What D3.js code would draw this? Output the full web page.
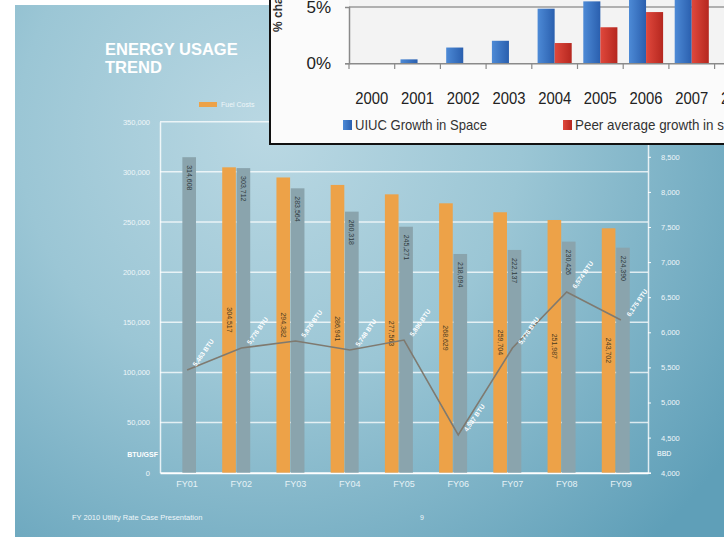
<!DOCTYPE html>
<html><head><meta charset="utf-8">
<script src="https://cdn.jsdelivr.net/npm/d3@7"></script>
<style>
html,body{margin:0;padding:0;background:#fff;}
svg{display:block;font-family:"Liberation Sans",Arial,sans-serif;}
</style></head>
<body>
<svg id="c" width="724" height="539"></svg>
<script>
// ---- main chart data ----
const categories = ["FY01","FY02","FY03","FY04","FY05","FY06","FY07","FY08","FY09"];
const fuelValues = [null, 304517, 294382, 286941, 277563, 268629, 259704, 251987, 243702];
const usageValues = [314608, 303712, 283564, 260318, 245271, 218094, 222137, 230426, 224390];
const intensityValues = [5463, 5776, 5876, 5748, 5890, 4537, 5776, 6574, 6175];
const leftTicks = [0, 50000, 100000, 150000, 200000, 250000, 300000, 350000];
const rightTicks = [4000, 4500, 5000, 5500, 6000, 6500, 7000, 7500, 8000, 8500];
// ---- inset chart data ----
const years = ["2000","2001","2002","2003","2004","2005","2006","2007","2008"];
const uiucGrowth = [0, 0.35, 1.4, 2.0, 4.85, 5.5, 7.2, 8.0, null];
const peerGrowth = [0, 0, 0, 0, 1.8, 3.2, 4.55, 7.6, null];
const insetTicks = [0, 5];

const svg = d3.select("#c");
const defs = svg.append("defs");

// slide background
const bg = defs.append("radialGradient").attr("id","bg").attr("gradientUnits","userSpaceOnUse")
  .attr("cx",270).attr("cy",130).attr("r",560);
bg.append("stop").attr("offset",0).attr("stop-color","#bad8e3");
bg.append("stop").attr("offset",0.45).attr("stop-color","#9bc6d5");
bg.append("stop").attr("offset",1).attr("stop-color","#5f9fb8");
svg.append("rect").attr("x",15).attr("y",5).attr("width",709).attr("height",532).attr("fill","url(#bg)");

// title
const title = svg.append("text").attr("fill","#ffffff").attr("font-weight","bold").attr("font-size",16.5);
title.append("tspan").attr("x",105).attr("y",55).text("ENERGY USAGE");
title.append("tspan").attr("x",105).attr("y",73).text("TREND");

// main chart scales
const x0 = d3.scaleBand().domain(categories).range([160, 648]);
const x1 = d3.scaleBand().domain(["fuel","usage"]).range([8, 36]).paddingInner(0.05);
const yL = d3.scaleLinear().domain([0, 350000]).range([472.7, 121.7]);
const yR = d3.scaleLinear().domain([4000, 9000]).range([472.7, 121.7]);

const g = svg.append("g");
// gridlines
g.selectAll("line.grid").data(leftTicks.slice(1)).join("line")
  .attr("x1",160).attr("x2",648).attr("y1",d=>yL(d)).attr("y2",d=>yL(d))
  .attr("stroke","#ffffff").attr("stroke-opacity",0.75).attr("stroke-width",1.5);

// left axis
const axL = g.append("g").attr("transform","translate(160,0)")
  .call(d3.axisLeft(yL).tickValues(leftTicks).tickFormat(d3.format(",")).tickSize(0).tickPadding(10));
axL.select(".domain").attr("stroke","#ffffff").attr("stroke-opacity",0.8).attr("stroke-width",1.5);
axL.selectAll("text").attr("fill","#eef6f9").attr("font-size",7.5);

// right axis
const axR = g.append("g").attr("transform","translate(648,0)")
  .call(d3.axisRight(yR).tickValues(rightTicks).tickFormat(d3.format(",")).tickSize(3).tickPadding(10));
axR.select(".domain").attr("stroke","#ffffff").attr("stroke-opacity",0.8).attr("stroke-width",1.5);
axR.selectAll(".tick line").attr("stroke","#ffffff");
axR.selectAll("text").attr("fill","#eef6f9").attr("font-size",7.5);

// bottom axis
const axB = g.append("g").attr("transform","translate(0,472.7)")
  .call(d3.axisBottom(x0).tickSize(0).tickPadding(8));
axB.select(".domain").attr("stroke","#ffffff").attr("stroke-width",2);
axB.selectAll("text").attr("fill","#e6f2f6").attr("font-size",9);

// unit labels
g.append("text").attr("x",158).attr("y",457).attr("text-anchor","end").attr("fill","#ffffff")
  .attr("font-size",7).attr("font-weight","bold").text("BTU/GSF");
g.append("text").attr("x",657).attr("y",456).attr("fill","#ffffff").attr("font-size",7).text("BBD");

// bars
const fuelBars = categories.map((c,i)=>({c, v:fuelValues[i]})).filter(d=>d.v!=null);
g.selectAll("rect.fuel").data(fuelBars).join("rect")
  .attr("x",d=>x0(d.c)+x1("fuel")).attr("width",x1.bandwidth())
  .attr("y",d=>yL(d.v)).attr("height",d=>yL(0)-yL(d.v)).attr("fill","#eda248");
g.selectAll("rect.usage").data(categories.map((c,i)=>({c, v:usageValues[i]}))).join("rect")
  .attr("x",d=>x0(d.c)+x1("usage")).attr("width",x1.bandwidth())
  .attr("y",d=>yL(d.v)).attr("height",d=>yL(0)-yL(d.v)).attr("fill","#8aa4ad");

// bar labels
g.selectAll("text.fl").data(fuelBars).join("text")
  .attr("transform",d=>`translate(${x0(d.c)+x1("fuel")+x1.bandwidth()/2},${(yL(d.v)+yL(0))/2}) rotate(90)`)
  .attr("text-anchor","middle").attr("dy","0.35em").attr("font-size",7).attr("fill","#4a3a20")
  .text(d=>d3.format(",")(d.v));
g.selectAll("text.ul").data(categories.map((c,i)=>({c, v:usageValues[i]}))).join("text")
  .attr("transform",d=>`translate(${x0(d.c)+x1("usage")+x1.bandwidth()/2},${yL(d.v)+8}) rotate(90)`)
  .attr("text-anchor","start").attr("dy","0.35em").attr("font-size",7).attr("fill","#2f3a3e")
  .text(d=>d3.format(",")(d.v));

// line
const pts = categories.map((c,i)=>({c, v:intensityValues[i]}));
const line = d3.line().x(d=>x0(d.c)+x0.bandwidth()/2).y(d=>yR(d.v));
g.append("path").datum(pts).attr("d",line).attr("fill","none")
  .attr("stroke","#7f7a70").attr("stroke-width",1.6);
g.selectAll("text.ll").data(pts).join("text")
  .attr("transform",d=>`translate(${x0(d.c)+x0.bandwidth()/2+9},${yR(d.v)-3}) rotate(-55)`)
  .attr("font-size",6.5).attr("font-weight","bold").attr("fill","#ffffff")
  .text(d=>d3.format(",")(d.v)+" BTU");

// legend (main)
svg.append("rect").attr("x",199).attr("y",102).attr("width",18).attr("height",5).attr("fill","#eda248");
svg.append("text").attr("x",221).attr("y",107).attr("font-size",7).attr("fill","#eef6f9").text("Fuel Costs");

// footer
svg.append("text").attr("x",72).attr("y",520).attr("font-size",7.5).attr("fill","#eef6f9").text("FY 2010 Utility Rate Case Presentation");
svg.append("text").attr("x",420).attr("y",520).attr("font-size",7).attr("fill","#eef6f9").text("9");

// ---- inset chart ----
const inset = svg.append("g");
defs.append("clipPath").attr("id","clipI").append("rect").attr("x",270).attr("y",0).attr("width",454).attr("height",144);
const gb = defs.append("linearGradient").attr("id","gBlue").attr("x1",0).attr("x2",1).attr("y1",0).attr("y2",0);
gb.append("stop").attr("offset",0).attr("stop-color","#4d8ad6");
gb.append("stop").attr("offset",1).attr("stop-color","#2a5fae");
const gr = defs.append("linearGradient").attr("id","gRed").attr("x1",0).attr("x2",1).attr("y1",0).attr("y2",0);
gr.append("stop").attr("offset",0).attr("stop-color","#e0483c");
gr.append("stop").attr("offset",1).attr("stop-color","#b5271f");

inset.append("rect").attr("x",270).attr("y",-2).attr("width",460).attr("height",146).attr("fill","#fbfbfb");
const ic = inset.append("g").attr("clip-path","url(#clipI)");
ic.append("rect").attr("x",349).attr("y",0).attr("width",375).attr("height",63.3).attr("fill","#f3f3f3");
const ix0 = d3.scaleBand().domain(years).range([349, 349 + 45.7*years.length]);
const ix1 = d3.scaleBand().domain(["uiuc","peer"]).range([0, ix0.bandwidth()]).paddingOuter(0.34);
const iy = d3.scaleLinear().domain([0,5]).range([63.3, 7]);

ic.selectAll("line.ig").data(insetTicks.slice(1)).join("line")
  .attr("x1",349).attr("x2",724).attr("y1",d=>iy(d)).attr("y2",d=>iy(d)).attr("stroke","#9a9a9a").attr("stroke-width",1.5);

const ub = years.map((y,i)=>({y, v:uiucGrowth[i]})).filter(d=>d.v!=null);
const pb = years.map((y,i)=>({y, v:peerGrowth[i]})).filter(d=>d.v!=null);
ic.selectAll("rect.ub").data(ub).join("rect")
  .attr("x",d=>ix0(d.y)+ix1("uiuc")).attr("width",ix1.bandwidth())
  .attr("y",d=>iy(d.v)).attr("height",d=>iy(0)-iy(d.v)).attr("fill","url(#gBlue)");
ic.selectAll("rect.pb").data(pb).join("rect")
  .attr("x",d=>ix0(d.y)+ix1("peer")).attr("width",ix1.bandwidth())
  .attr("y",d=>iy(d.v)).attr("height",d=>iy(0)-iy(d.v)).attr("fill","url(#gRed)");

const iax = ic.append("g").attr("transform","translate(0,63.3)")
  .call(d3.axisBottom(ix0).tickSize(0).tickPadding(29));
iax.select(".domain").attr("stroke","#8a8a8a").attr("stroke-width",1.5);
iax.selectAll("text").attr("fill","#222").attr("font-size",16.5).attr("textLength",33).attr("lengthAdjust","spacingAndGlyphs");
ic.selectAll("line.itk").data(years).join("line")
  .attr("x1",d=>ix0(d)).attr("x2",d=>ix0(d)).attr("y1",63.3).attr("y2",69).attr("stroke","#8a8a8a").attr("stroke-width",1.2);

const iay = ic.append("g").attr("transform","translate(349,0)")
  .call(d3.axisLeft(iy).tickValues(insetTicks).tickFormat(d=>d+"%").tickSize(4).tickPadding(14));
iay.select(".domain").attr("stroke","#8a8a8a").attr("stroke-width",1.5);
iay.selectAll(".tick line").attr("stroke","#8a8a8a");
iay.selectAll("text").attr("fill","#222").attr("font-size",17);

ic.append("text").attr("transform","translate(282,32) rotate(-90)").attr("font-size",12).attr("font-weight","bold")
  .attr("fill","#333").text("% change in space");

// inset legend
const iLegend = [{label:"UIUC Growth in Space", fill:"url(#gBlue)", x:343, w:132},
                 {label:"Peer average growth in space", fill:"url(#gRed)", x:563, w:178}];
ic.selectAll("rect.il").data(iLegend).join("rect")
  .attr("x",d=>d.x).attr("y",120).attr("width",9).attr("height",10).attr("fill",d=>d.fill);
ic.selectAll("text.il").data(iLegend).join("text")
  .attr("x",d=>d.x+12).attr("y",130).attr("font-size",14.5).attr("fill","#333")
  .attr("textLength",d=>d.w).attr("lengthAdjust","spacingAndGlyphs")
  .text(d=>d.label);

// inset border
inset.append("line").attr("x1",270).attr("x2",270).attr("y1",0).attr("y2",145).attr("stroke","#111").attr("stroke-width",2);
inset.append("line").attr("x1",269).attr("x2",724).attr("y1",144).attr("y2",144).attr("stroke","#111").attr("stroke-width",2);
</script>
</body></html>
